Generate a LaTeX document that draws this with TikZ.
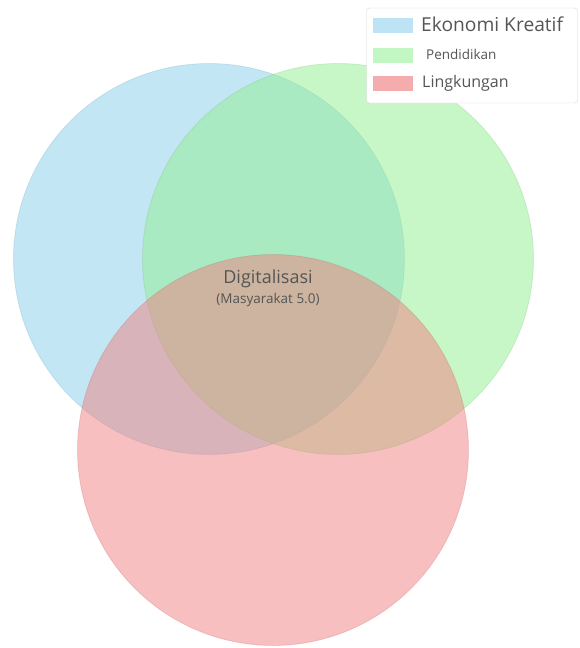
\documentclass[tikz,border=0pt]{standalone}
\usepackage{fontspec}
\setmainfont{Open Sans}
\definecolor{cblue}{RGB}{135,206,235}
\definecolor{cgreen}{RGB}{144,238,144}
\definecolor{cred}{RGB}{240,128,128}
\definecolor{txt}{RGB}{85,85,85}
\definecolor{legborder}{RGB}{215,215,215}
\begin{document}
\begin{tikzpicture}[x=1pt,y=-1pt,
  venn/.style={circle, inner sep=0pt, minimum size=391pt, fill opacity=0.5, draw opacity=0.25, line width=0.8pt},
  swatch/.style={inner sep=0pt, minimum width=40pt, minimum height=15pt},
  legtext/.style={anchor=west, text=txt, inner sep=0pt},
  lab/.style={text=txt, inner sep=0pt}]
\useasboundingbox (0,0) rectangle (579,648);
\node[venn, fill=cblue, draw=cblue!80!black] (ek) at (209,259) {};
\node[venn, fill=cgreen, draw=cgreen!80!black] (pe) at (338,259) {};
\node[venn, fill=cred, draw=cred!80!black] (li) at (273,450) {};
\node[lab, font=\fontsize{18}{21}\selectfont] (dig) at (268,279) {Digitalisasi};
\node[lab, font=\fontsize{13.5}{16}\selectfont] (mas) at (268,300) {(Masyarakat 5.0)};
% legend
\node[draw=legborder, fill=white, rounded corners=3pt, inner sep=0pt, minimum width=211pt, minimum height=95pt] (leg) at (472,55.5) {};
\node[swatch, fill=cblue!55] (s1) at (393,25) {};
\node[swatch, fill=cgreen!55] (s2) at (393,55) {};
\node[swatch, fill=cred!65] (s3) at (393,83) {};
\node[legtext, font=\fontsize{19.2}{22}\selectfont] (t1) at (421,24) {Ekonomi Kreatif};
\node[legtext, font=\fontsize{13.5}{16}\selectfont] (t2) at (426,54) {Pendidikan};
\node[legtext, font=\fontsize{16}{18}\selectfont] (t3) at (422,83) {Lingkungan};
\end{tikzpicture}
\end{document}
